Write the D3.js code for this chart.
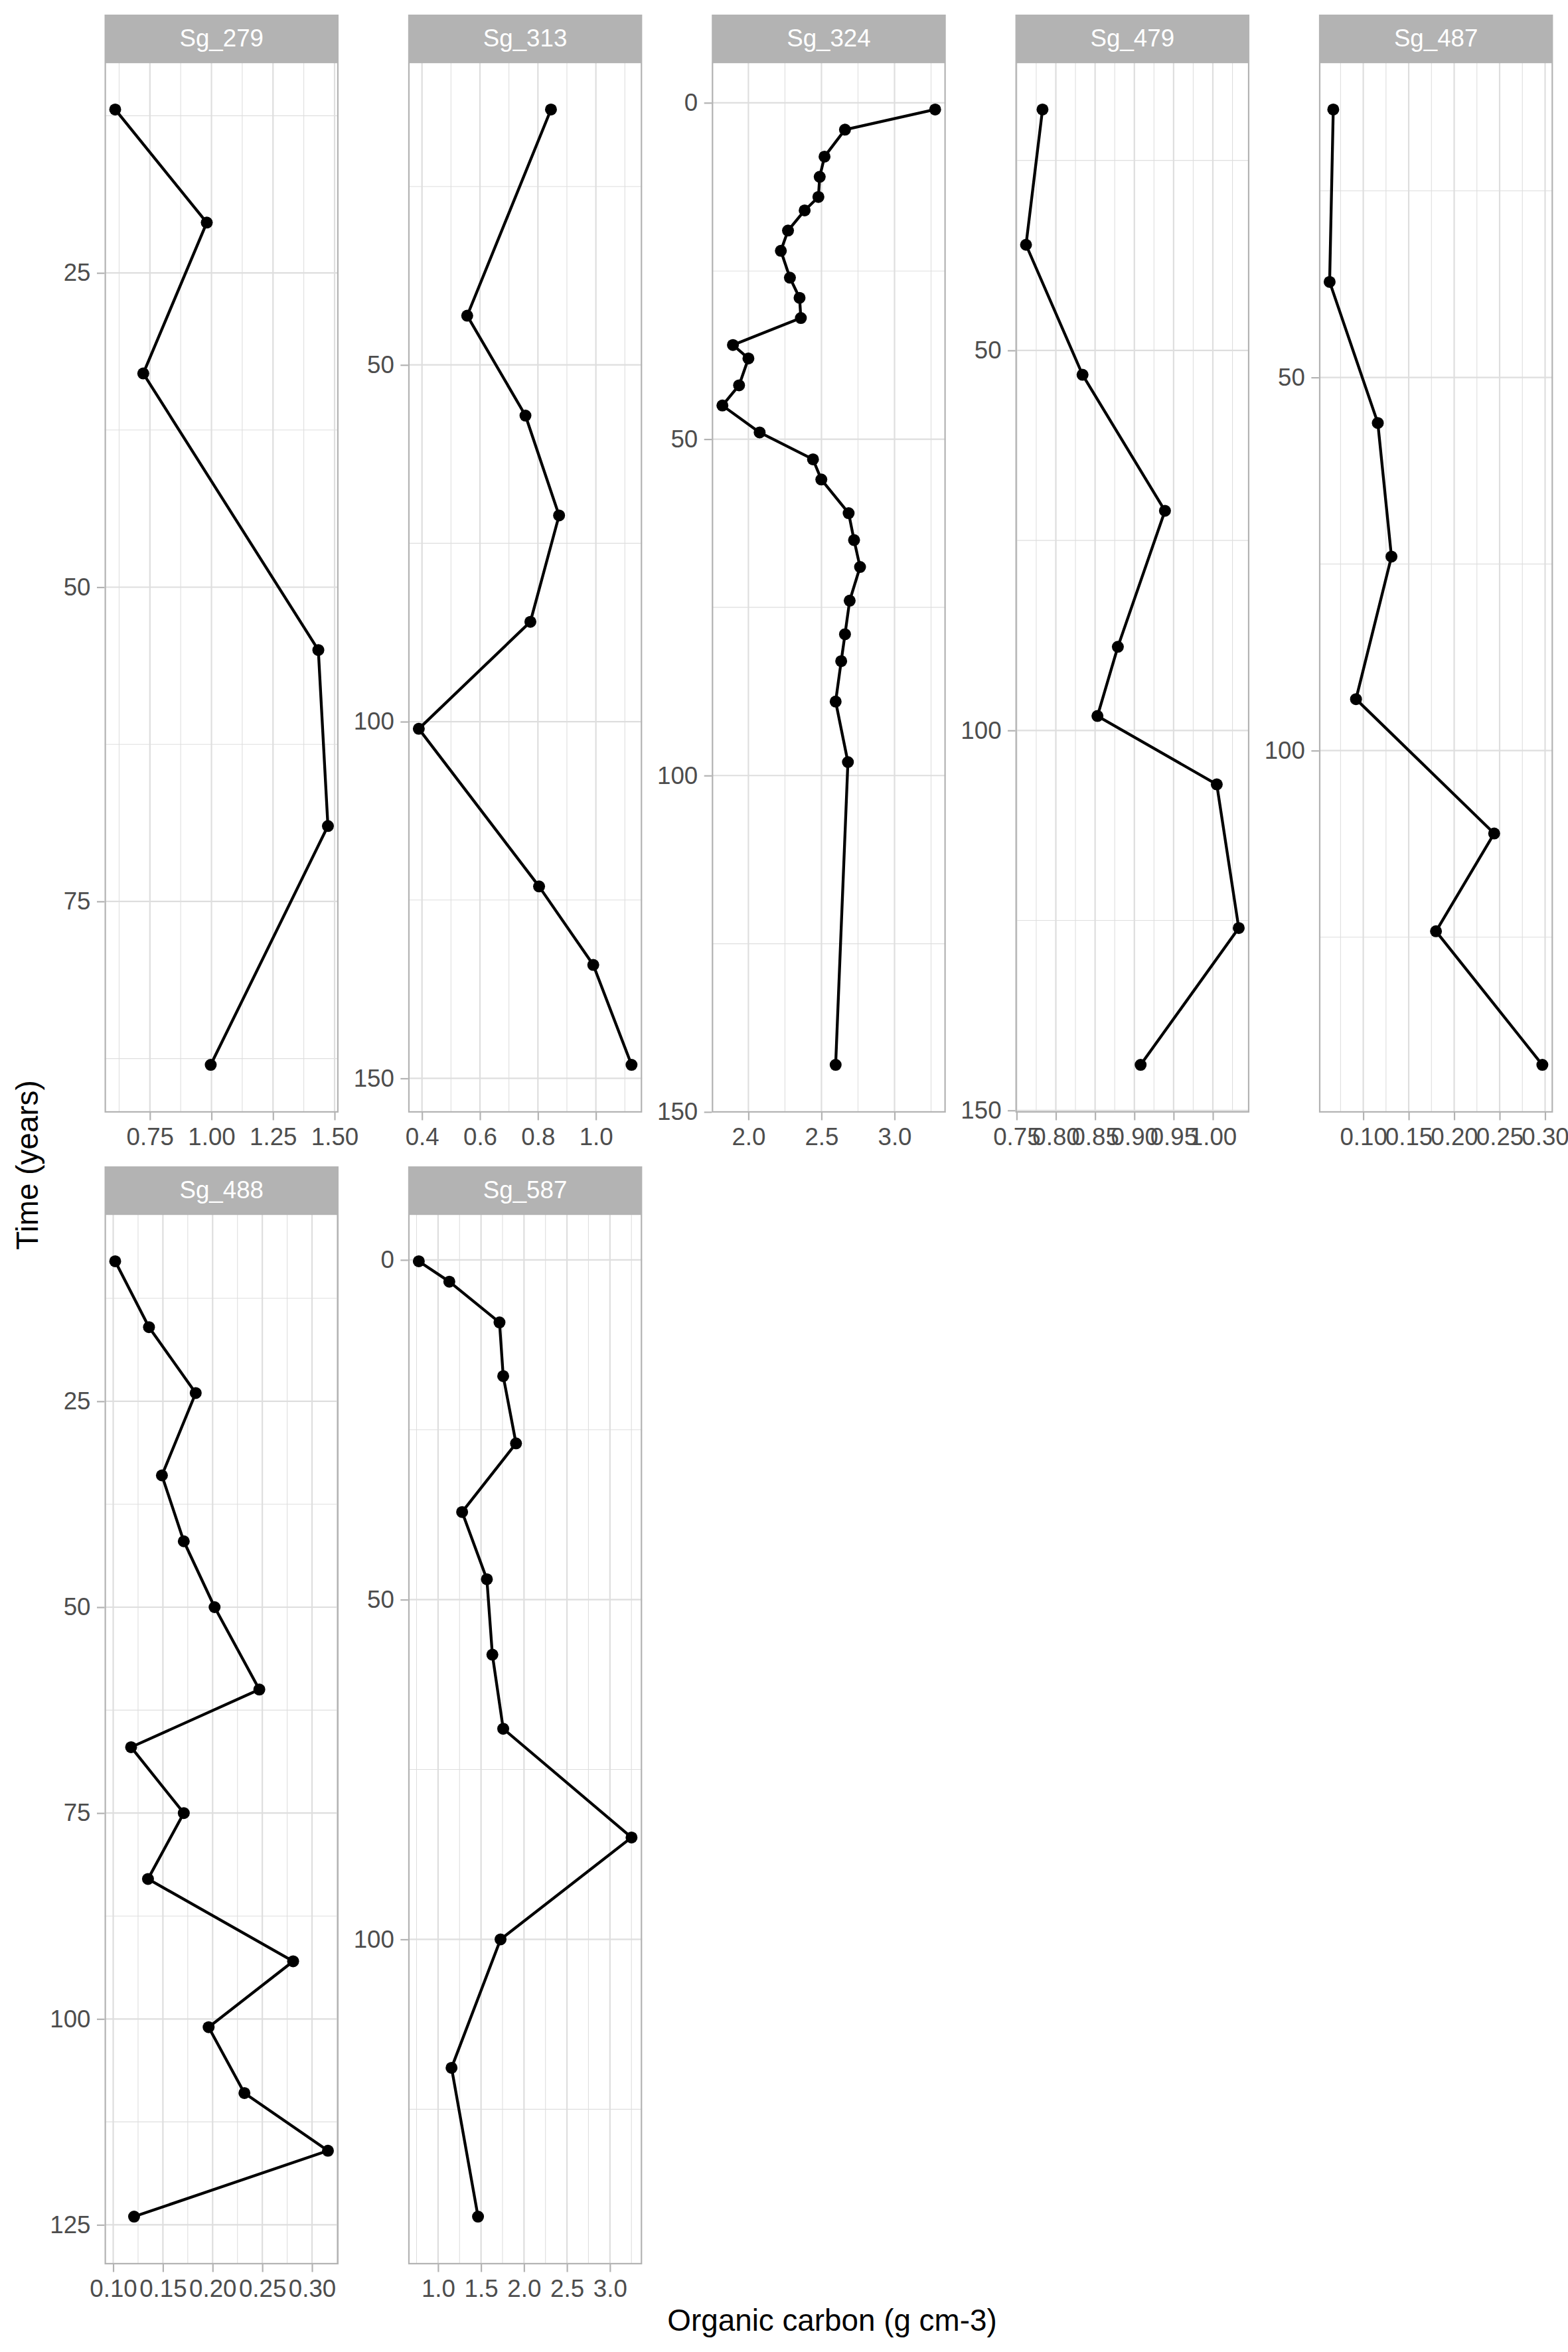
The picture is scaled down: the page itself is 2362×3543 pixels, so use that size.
<!DOCTYPE html>
<html>
<head>
<meta charset="utf-8">
<script src="https://cdn.jsdelivr.net/npm/d3@7"></script>
<style>
  html, body { margin: 0; padding: 0; background: #ffffff; }
  svg { display: block; }
</style>
</head>
<body>
<script>
// ---------------- DATA ----------------
const panelNames = ["Sg_279", "Sg_313", "Sg_324", "Sg_479", "Sg_487", "Sg_488", "Sg_587"];

const sg279Time = [12, 21, 33, 55, 69, 88];
const sg279OC   = [0.609, 0.981, 0.723, 1.434, 1.473, 0.997];

const sg313Time = [14.2, 43.1, 57.1, 71.1, 86.0, 101.0, 123.1, 134.1, 148.1];
const sg313OC   = [0.845, 0.556, 0.757, 0.873, 0.774, 0.389, 0.804, 0.991, 1.123];

const sg324Time = [1, 4, 8, 11, 14, 16, 19, 22, 26, 29, 32, 36, 38, 42, 45, 49, 53, 56, 61, 65, 69, 74, 79, 83, 89, 98, 143];
const sg324OC   = [3.278, 2.661, 2.521, 2.488, 2.479, 2.385, 2.271, 2.222, 2.284, 2.350, 2.359, 1.894, 2.000, 1.936,
                   1.822, 2.077, 2.442, 2.499, 2.686, 2.723, 2.764, 2.693, 2.661, 2.635, 2.597, 2.681, 2.597];

const sg479Time = [18.3, 36.1, 53.2, 71.1, 89.0, 98.1, 107.1, 126.0, 144.0];
const sg479OC   = [0.783, 0.762, 0.834, 0.939, 0.879, 0.853, 1.005, 1.033, 0.908];

const sg487Time = [14.1, 37.2, 56.1, 74.0, 93.1, 111.1, 124.2, 142.1];
const sg487OC   = [0.067, 0.063, 0.116, 0.131, 0.092, 0.244, 0.180, 0.297];

const sg488Time = [8, 16, 24, 34, 42, 50, 60, 67, 75, 83, 93, 101, 109, 116, 124];
const sg488OC   = [0.102, 0.136, 0.183, 0.149, 0.171, 0.202, 0.247, 0.118, 0.171, 0.135, 0.281, 0.196, 0.232, 0.316, 0.121];

const sg587Time = [0.2, 3.2, 9.2, 17.1, 27.0, 37.1, 47.0, 58.1, 69.0, 85.0, 100.0, 118.9, 140.8];
const sg587OC   = [0.776, 1.131, 1.715, 1.758, 1.907, 1.280, 1.568, 1.632, 1.758, 3.251, 1.727, 1.157, 1.465];

// tick values & labels
const xTickValues = [
  [0.75, 1.00, 1.25, 1.50],
  [0.4, 0.6, 0.8, 1.0],
  [2.0, 2.5, 3.0],
  [0.75, 0.80, 0.85, 0.90, 0.95, 1.00],
  [0.10, 0.15, 0.20, 0.25, 0.30],
  [0.10, 0.15, 0.20, 0.25, 0.30],
  [1.0, 1.5, 2.0, 2.5, 3.0]
];
const xTickLabels = [
  ["0.75", "1.00", "1.25", "1.50"],
  ["0.4", "0.6", "0.8", "1.0"],
  ["2.0", "2.5", "3.0"],
  ["0.75", "0.80", "0.85", "0.90", "0.95", "1.00"],
  ["0.10", "0.15", "0.20", "0.25", "0.30"],
  ["0.10", "0.15", "0.20", "0.25", "0.30"],
  ["1.0", "1.5", "2.0", "2.5", "3.0"]
];
const yTickValues = [
  [25, 50, 75],
  [50, 100, 150],
  [0, 50, 100, 150],
  [50, 100, 150],
  [50, 100],
  [25, 50, 75, 100, 125],
  [0, 50, 100]
];
const yTickLabels = [
  ["25", "50", "75"],
  ["50", "100", "150"],
  ["0", "50", "100", "150"],
  ["50", "100", "150"],
  ["50", "100"],
  ["25", "50", "75", "100", "125"],
  ["0", "50", "100"]
];

const xTitle = "Organic carbon (g cm-3)";
const yTitle = "Time (years)";

// ---------------- LAYOUT / STYLE ----------------
const W = 2362, H = 3543;
const colLeft0 = 157.5, colStep = 457.35, panelW = 352.5;
const stripTops = [22, 1757], stripH = 71, panelH = 1583;
const FONT = "'Liberation Sans', Arial, Helvetica, sans-serif";
const tickFont = 36.7, titleFont = 45.8;
const greyBorder = "#B3B3B3", greyGrid = "#DEDEDE", greyText = "#4D4D4D";

const series = [
  [sg279Time, sg279OC], [sg313Time, sg313OC], [sg324Time, sg324OC], [sg479Time, sg479OC],
  [sg487Time, sg487OC], [sg488Time, sg488OC], [sg587Time, sg587OC]
];

function expand(ext) {
  const d = ext[1] - ext[0];
  return [ext[0] - 0.05 * d, ext[1] + 0.05 * d];
}
function minorBreaks(majors, dom) {
  const step = majors[1] - majors[0];
  const lo = Math.min(dom[0], dom[1]), hi = Math.max(dom[0], dom[1]);
  const out = [];
  for (let k = -1; k < majors.length; k++) {
    const v = majors[0] + (k + 0.5) * step;
    if (v >= lo && v <= hi) out.push(v);
  }
  return out;
}

const svg = d3.select("body").append("svg")
  .attr("width", W).attr("height", H)
  .attr("viewBox", `0 0 ${W} ${H}`);
svg.append("rect").attr("width", W).attr("height", H).attr("fill", "#ffffff");

const defs = svg.append("defs");

panelNames.forEach((name, i) => {
  const col = i % 5, row = Math.floor(i / 5);
  const left = colLeft0 + col * colStep;
  const stripTop = stripTops[row];
  const top = stripTop + stripH;
  const [times, ocs] = series[i];
  const pts = times.map((t, j) => ({ t: t, v: ocs[j] }));

  const x = d3.scaleLinear().domain(expand(d3.extent(ocs))).range([left, left + panelW]);
  const y = d3.scaleLinear().domain(expand(d3.extent(times))).range([top, top + panelH]);

  const g = svg.append("g").attr("class", "panel");
  const clipId = "clip" + i;
  defs.append("clipPath").attr("id", clipId)
    .append("rect").attr("x", left).attr("y", top).attr("width", panelW).attr("height", panelH);

  const inner = g.append("g").attr("clip-path", `url(#${clipId})`);
  inner.append("rect").attr("x", left).attr("y", top).attr("width", panelW).attr("height", panelH)
    .attr("fill", "#ffffff");

  // minor grid
  const xMinor = minorBreaks(xTickValues[i], x.domain());
  const yMinor = minorBreaks(yTickValues[i], y.domain());
  inner.selectAll(".xminor").data(xMinor).enter().append("line")
    .attr("x1", d => x(d)).attr("x2", d => x(d)).attr("y1", top).attr("y2", top + panelH)
    .attr("stroke", greyGrid).attr("stroke-width", 1.1);
  inner.selectAll(".yminor").data(yMinor).enter().append("line")
    .attr("y1", d => y(d)).attr("y2", d => y(d)).attr("x1", left).attr("x2", left + panelW)
    .attr("stroke", greyGrid).attr("stroke-width", 1.1);
  // major grid
  inner.selectAll(".xmajor").data(xTickValues[i]).enter().append("line")
    .attr("x1", d => x(d)).attr("x2", d => x(d)).attr("y1", top).attr("y2", top + panelH)
    .attr("stroke", greyGrid).attr("stroke-width", 2.2);
  inner.selectAll(".ymajor").data(yTickValues[i]).enter().append("line")
    .attr("y1", d => y(d)).attr("y2", d => y(d)).attr("x1", left).attr("x2", left + panelW)
    .attr("stroke", greyGrid).attr("stroke-width", 2.2);

  // path
  const line = d3.line().x(d => x(d.v)).y(d => y(d.t));
  inner.append("path").datum(pts).attr("d", line)
    .attr("fill", "none").attr("stroke", "#000000").attr("stroke-width", 4.3)
    .attr("stroke-linejoin", "round").attr("stroke-linecap", "butt");
  inner.selectAll(".pt").data(pts).enter().append("circle")
    .attr("cx", d => x(d.v)).attr("cy", d => y(d.t)).attr("r", 9)
    .attr("fill", "#000000");

  // border
  g.append("rect").attr("x", left + 1.1).attr("y", top + 1.1)
    .attr("width", panelW - 2.2).attr("height", panelH - 2.2)
    .attr("fill", "none").attr("stroke", greyBorder).attr("stroke-width", 2.2);

  // strip
  g.append("rect").attr("x", left).attr("y", stripTop).attr("width", panelW).attr("height", stripH)
    .attr("fill", greyBorder);
  g.append("text").attr("x", left + panelW / 2).attr("y", stripTop + stripH / 2)
    .attr("dy", "0.35em").attr("text-anchor", "middle")
    .attr("font-family", FONT).attr("font-size", tickFont).attr("fill", "#ffffff")
    .text(name);

  // axes
  const xl = xTickLabels[i], yl = yTickLabels[i];
  const xAxis = d3.axisBottom(x).tickValues(xTickValues[i])
    .tickFormat((d, k) => xl[k]).tickSizeOuter(0).tickSize(11.5).tickPadding(11);
  const yAxis = d3.axisLeft(y).tickValues(yTickValues[i])
    .tickFormat((d, k) => yl[k]).tickSizeOuter(0).tickSize(11.5).tickPadding(9.5);

  const gx = g.append("g").attr("transform", `translate(0,${top + panelH})`).call(xAxis);
  const gy = g.append("g").attr("transform", `translate(${left},0)`).call(yAxis);
  [gx, gy].forEach(ax => {
    ax.select(".domain").remove();
    ax.attr("font-family", FONT).attr("font-size", tickFont);
    ax.selectAll(".tick line").attr("stroke", greyBorder).attr("stroke-width", 2.2);
    ax.selectAll(".tick text").attr("fill", greyText);
  });
});

// axis titles
svg.append("text")
  .attr("x", 1253.5).attr("y", 3511)
  .attr("text-anchor", "middle")
  .attr("font-family", FONT).attr("font-size", titleFont).attr("fill", "#000000")
  .text(xTitle);
svg.append("text")
  .attr("transform", "translate(57,1755) rotate(-90)")
  .attr("text-anchor", "middle")
  .attr("font-family", FONT).attr("font-size", titleFont).attr("fill", "#000000")
  .text(yTitle);
</script>
</body>
</html>
